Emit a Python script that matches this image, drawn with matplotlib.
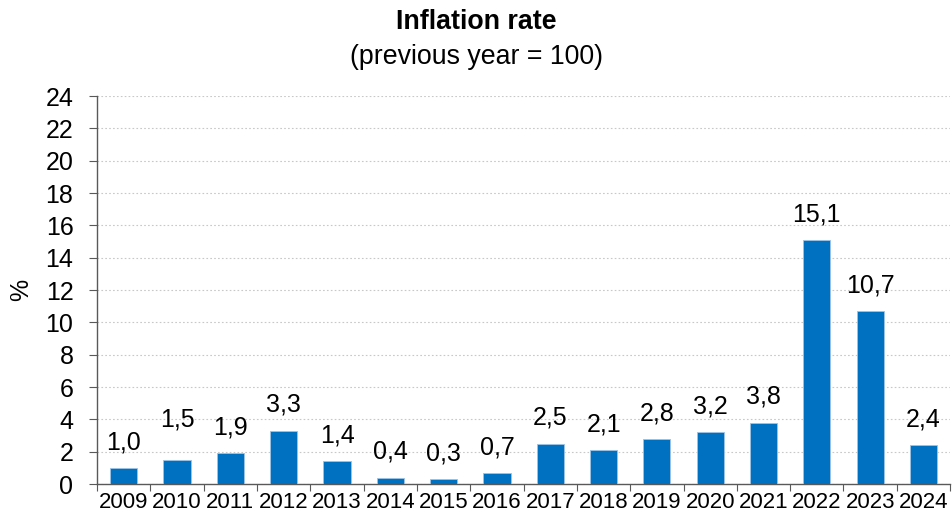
"""Inflation rate bar chart (previous year = 100)."""
import matplotlib
matplotlib.use("Agg")
import matplotlib.pyplot as plt
import numpy as np

years = ["2009", "2010", "2011", "2012", "2013", "2014", "2015", "2016",
         "2017", "2018", "2019", "2020", "2021", "2022", "2023", "2024"]
rates = [1.0, 1.5, 1.9, 3.3, 1.4, 0.4, 0.3, 0.7,
         2.5, 2.1, 2.8, 3.2, 3.8, 15.1, 10.7, 2.4]
y_ticks = list(range(0, 25, 2))

_BAR_COLOR = "#0070C0"
_TEXT_COLOR = "black"
_AXIS_COLOR = "#595959"

plt.rcParams["font.family"] = ["Liberation Sans", "DejaVu Sans"]

fig = plt.figure(figsize=(9.52, 5.17), dpi=100)
ax = fig.add_axes([0.102, 0.0638, 0.896, 0.7505])

x = np.arange(len(years))
bars = ax.bar(x, rates, width=0.51, color=_BAR_COLOR,
              edgecolor="#9DC3E6", linewidth=0.6, zorder=3)

# Value labels above bars; 2010 sits a bit higher in the original.
for i, (bar, v) in enumerate(zip(bars, rates)):
    offset = 29 if years[i] == "2010" else 18.5
    ax.annotate(f"{v:.1f}".replace(".", ","),
                xy=(bar.get_x() + bar.get_width() / 2, v),
                xytext=(0, offset), textcoords="offset points",
                ha="center", va="center", fontsize=18, color=_TEXT_COLOR)

ax.set_xlim(-0.5, len(years) - 0.5)
ax.set_ylim(0, 24)
ax.set_yticks(y_ticks)
ax.tick_params(axis="y", labelsize=18, direction="out", length=6,
               color=_AXIS_COLOR, pad=11)

# Category ticks sit between bars; labels centred under bars.
ax.set_xticks(np.arange(-0.5, len(years)), minor=False)
ax.set_xticklabels([])
ax.set_xticks(x, minor=True)
ax.set_xticklabels(years, minor=True)
ax.tick_params(axis="x", which="major", direction="out", length=5,
               color=_AXIS_COLOR)
ax.tick_params(axis="x", which="minor", length=0, labelsize=16, pad=6)

ax.grid(axis="y", linestyle=(0, (1.5, 2)), color="#C8C8C8", linewidth=0.8, zorder=0)
for side in ("top", "right"):
    ax.spines[side].set_visible(False)
for side in ("left", "bottom"):
    ax.spines[side].set_color(_AXIS_COLOR)
    ax.spines[side].set_linewidth(1.0)

ax.set_ylabel("%", fontsize=18, labelpad=9)

fig.text(0.5, 0.958, "Inflation rate", ha="center", va="center",
         fontsize=19.3, fontweight="bold")
fig.text(0.5, 0.89, "(previous year = 100)", ha="center", va="center",
         fontsize=19.3)

fig.savefig("out.png", dpi=100, facecolor="white")
plt.close(fig)
